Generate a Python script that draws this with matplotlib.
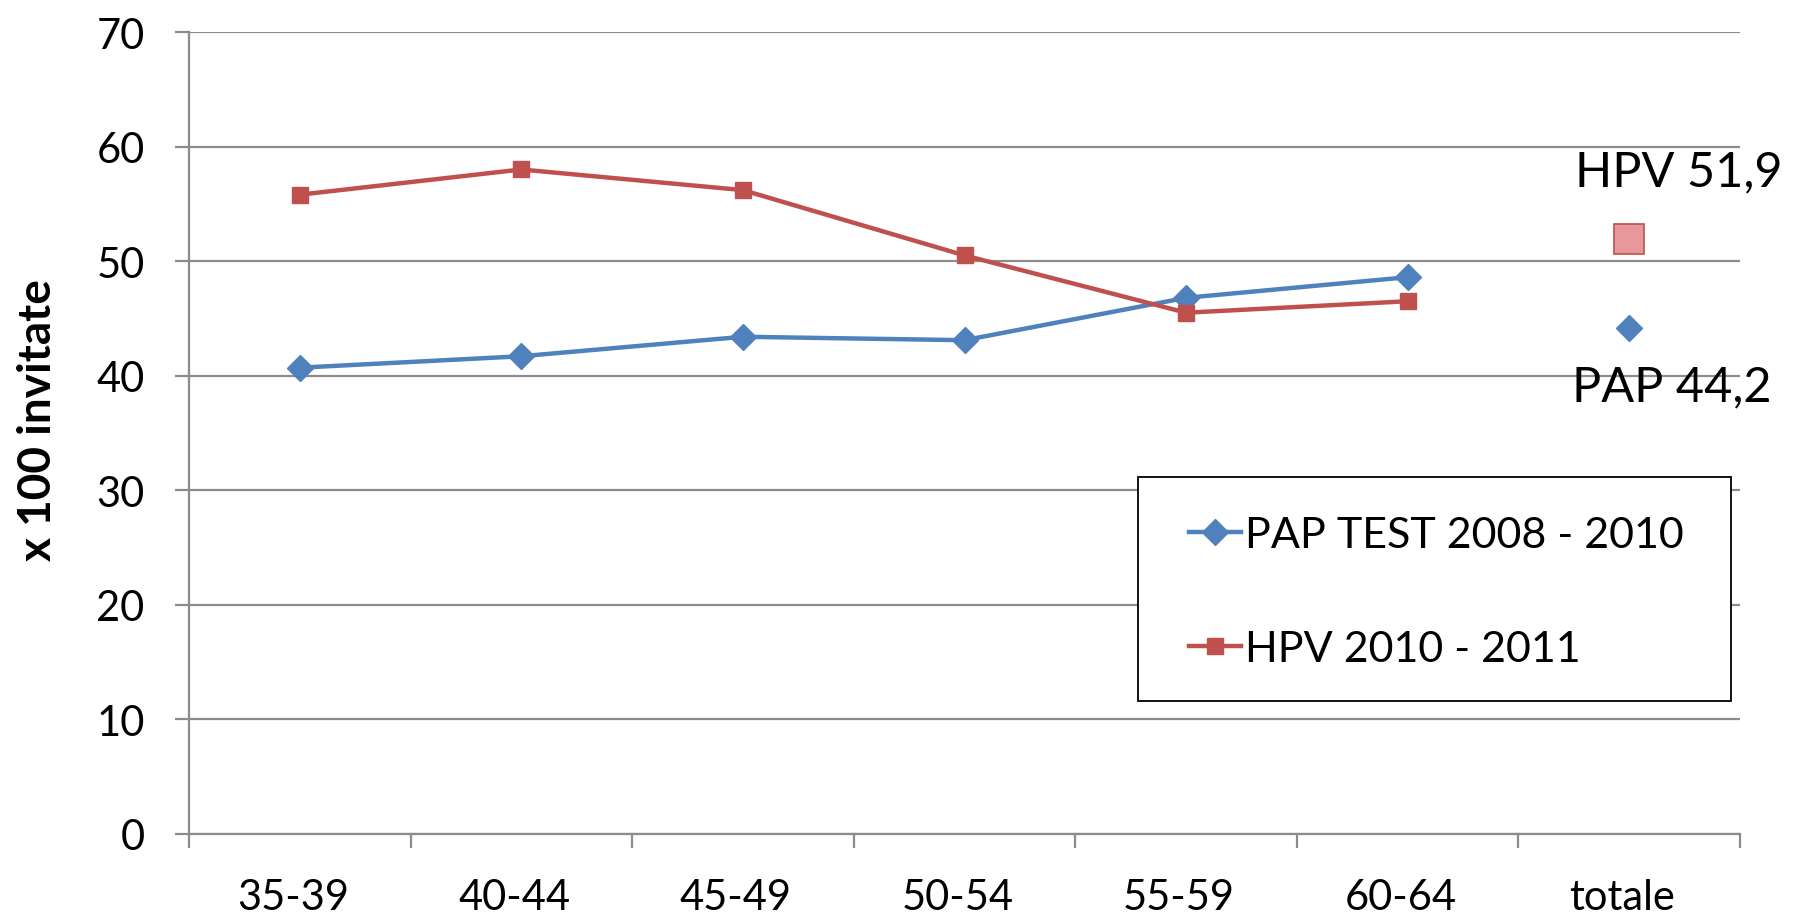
import matplotlib
matplotlib.use("Agg")
import matplotlib.pyplot as plt
import matplotlib.transforms as mtransforms
from matplotlib.patches import Rectangle
import numpy as np

# data
categories = ['35-39', '40-44', '45-49', '50-54', '55-59', '60-64', 'totale']
pap_values = [40.7, 41.7, 43.4, 43.1, 46.8, 48.6]
hpv_values = [55.8, 58.0, 56.2, 50.5, 45.5, 46.5]
pap_total = 44.2
hpv_total = 51.9
yticks = [0, 10, 20, 30, 40, 50, 60, 70]

BLUE = '#4F81BD'
RED = '#C0504D'
PINK = '#E6989A'
GRID_C = '#8C8C8C'
FONT = 'Lato'
FS = 30

plt.rcParams['font.family'] = [FONT, 'DejaVu Sans']

fig = plt.figure(figsize=(17.94, 9.2), dpi=100)
ax = fig.add_axes([189 / 1794, 1 - 835 / 920, (1740 - 189) / 1794, (835 - 33) / 920])

x = np.arange(len(categories))
n = len(pap_values)

ax.plot(x[:n], pap_values, color=BLUE, lw=3.2, marker='D', ms=13,
        label='PAP TEST 2008 - 2010', zorder=3)
ax.plot(x[:n], hpv_values, color=RED, lw=3.2, marker='s', ms=12,
        label='HPV 2010 - 2011', zorder=3)

# totals, no line
ax.plot([x[-1]], [hpv_total], marker='s', ms=22, color=PINK,
        markeredgecolor=RED, markeredgewidth=1.2, ls='none', zorder=3)
ax.plot([x[-1]], [pap_total], marker='D', ms=13, color=BLUE, ls='none', zorder=3)

ax.text(x[-1] + 0.69, hpv_total + 5.9, 'HPV 51,9', fontsize=35, ha='right',
        va='center', clip_on=False)
ax.text(x[-1] + 0.64, pap_total - 5.1, 'PAP 44,2', fontsize=35, ha='right',
        va='center', clip_on=False)

ax.set_xlim(-0.5, len(categories) - 0.5)
ax.set_ylim(0, 70)
ax.set_yticks(yticks)
ax.set_yticklabels([str(v) for v in yticks])
ax.set_xticks(x)
ax.set_xticklabels(categories)
ax.set_xticks(np.arange(-0.5, len(categories)), minor=True)

ax.grid(axis='y', color=GRID_C, lw=1.6)
ax.set_axisbelow(True)
for s in ['top', 'right']:
    ax.spines[s].set_visible(False)
for s in ['left', 'bottom']:
    ax.spines[s].set_color(GRID_C)
    ax.spines[s].set_linewidth(1.6)

ax.tick_params(axis='y', length=10, width=1.6, color=GRID_C, labelsize=FS, pad=22)
ax.tick_params(axis='x', which='major', length=0, labelsize=FS, pad=32)
ax.tick_params(axis='x', which='minor', length=10, width=1.6, color=GRID_C)

# category labels sit slightly left of centre in the reference
shift = mtransforms.ScaledTranslation(-7 / 100, 0, fig.dpi_scale_trans)
for lab in ax.get_xticklabels():
    lab.set_transform(lab.get_transform() + shift)

ax.set_ylabel('x 100 invitate', fontsize=33, fontweight='bold')
ax.yaxis.set_label_coords(-0.084, 0.518)

# legend box drawn separately so its size can match the reference
ax.add_patch(Rectangle((0.612, 0.166), 0.382, 0.279, transform=ax.transAxes,
                       facecolor='white', edgecolor='black', lw=1.3,
                       zorder=4, clip_on=False))
leg = ax.legend(loc='upper left', bbox_to_anchor=(0.645, 0.396), fontsize=31,
                frameon=False, handlelength=1.2, handletextpad=0.1,
                labelspacing=1.75, borderpad=0, borderaxespad=0)
leg.set_zorder(5)

fig.savefig('out.png', dpi=100)
